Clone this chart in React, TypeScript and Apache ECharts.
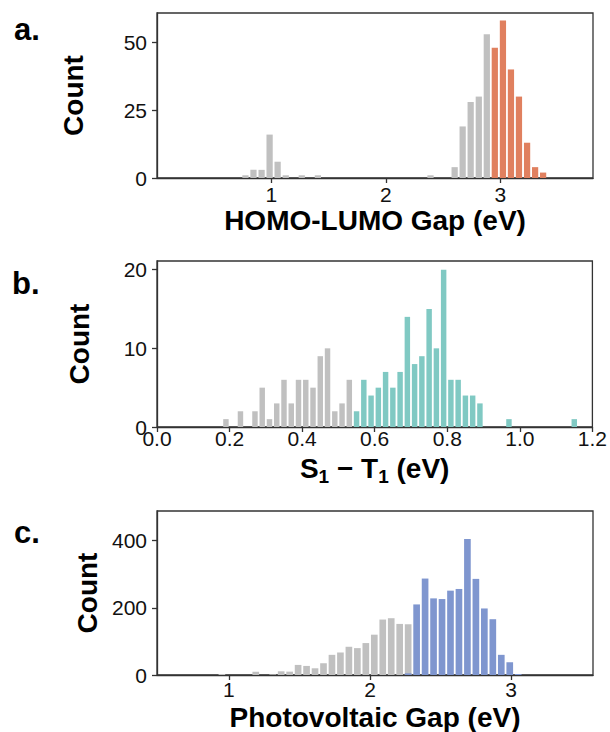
import React, { useEffect, useRef } from "react";
import * as echarts from "echarts";

const FONT = "'Liberation Sans', Arial, Helvetica, sans-serif";

// ---- Panel a: HOMO-LUMO gap ----
const aBinWidth = 0.0703;
const aGrayCenters = [0.773, 0.843, 0.914, 0.984, 1.054, 1.125, 1.265, 1.406, 2.39, 2.601, 2.671, 2.741, 2.812, 2.882];
const aGrayCounts = [1, 3, 3, 16, 6, 1, 1, 1, 1, 4, 19, 28, 30, 53];
const aTopCenters = [2.952, 3.023, 3.093, 3.163, 3.234, 3.304, 3.374];
const aTopCounts = [48, 58, 40, 30, 13, 4, 2];
const aXTicks = [1, 2, 3];
const aYTicks = [0, 25, 50];

// ---- Panel b: S1 - T1 ----
const bBinWidth = 0.02;
const bGrayCenters = [0.19, 0.23, 0.27, 0.29, 0.31, 0.33, 0.35, 0.37, 0.39, 0.41, 0.43, 0.45, 0.47, 0.49, 0.51, 0.53];
const bGrayCounts = [1, 2, 2, 5, 1, 3, 6, 3, 6, 6, 5, 9, 10, 2, 3, 6];
const bTopCenters = [0.55, 0.57, 0.59, 0.61, 0.63, 0.65, 0.67, 0.69, 0.71, 0.73, 0.75, 0.77, 0.79, 0.81, 0.83, 0.85, 0.87, 0.89, 0.97, 1.15];
const bTopCounts = [2, 6, 4, 5, 7, 5, 7, 14, 8, 9, 15, 10, 20, 6, 6, 4, 4, 3, 1, 1];
const bXTicks = [0, 0.2, 0.4, 0.6, 0.8, 1.0, 1.2];
const bYTicks = [0, 10, 20];

// ---- Panel c: Photovoltaic gap ----
const cBinWidth = 0.06;
const cGrayCenters = [0.95, 1.19, 1.31, 1.37, 1.43, 1.49, 1.55, 1.61, 1.67, 1.73, 1.79, 1.85, 1.91, 1.97, 2.03, 2.09, 2.15, 2.21, 2.27];
const cGrayCounts = [3, 10, 2, 11, 10, 30, 27, 20, 35, 60, 67, 84, 80, 95, 120, 165, 169, 152, 151];
const cTopCenters = [2.27, 2.33, 2.39, 2.45, 2.51, 2.57, 2.63, 2.69, 2.75, 2.81, 2.87, 2.93, 2.99, 3.05];
const cTopCounts = [5, 210, 287, 228, 226, 251, 256, 405, 286, 198, 166, 60, 38, 3];
const cXTicks = [1, 2, 3];
const cYTicks = [0, 200, 400];

const GRAY = "#c0c0c0";
const ORANGE = "#e0805f";
const TEAL = "#80c9c3";
const BLUE = "#7f96cf";

const pairs = (xs: number[], ys: number[]) => xs.map((x, i) => [x, ys[i]]);

function barSeries(idx: number, data: number[][], width: number, color: string) {
  return {
    type: "custom",
    xAxisIndex: idx,
    yAxisIndex: idx,
    data,
    encode: { x: 0, y: 1 },
    renderItem: (_params: any, api: any) => {
      const c = api.value(0) as number;
      const v = api.value(1) as number;
      const p0 = api.coord([c - width / 2, v]);
      const p1 = api.coord([c + width / 2, 0]);
      const gap = 0.9;
      return {
        type: "rect",
        shape: {
          x: p0[0] + gap,
          y: p0[1],
          width: Math.max(0, p1[0] - p0[0] - 2 * gap),
          height: p1[1] - p0[1],
        },
        style: { fill: color },
      };
    },
  };
}

const lineStyle = { color: "#333", width: 1.3 };

function xAxis(idx: number, min: number, max: number, ticks: number[], name: string, gap: number, margin: number, fmt?: (v: number) => string, rich?: any) {
  return {
    type: "value",
    gridIndex: idx,
    min,
    max,
    name,
    nameLocation: "middle",
    nameGap: gap,
    nameTextStyle: { fontSize: 28, fontWeight: "bold", color: "#000", fontFamily: FONT, rich },
    axisLine: { show: true, onZero: false, lineStyle },
    axisTick: { show: true, length: 5, customValues: ticks, lineStyle },
    axisLabel: { customValues: ticks, margin, fontSize: 21, color: "#111", fontFamily: FONT, formatter: fmt },
    splitLine: { show: false },
  };
}

function yAxis(idx: number, max: number, ticks: number[], gap: number) {
  return {
    type: "value",
    gridIndex: idx,
    min: 0,
    max,
    name: "Count",
    nameLocation: "middle",
    nameGap: gap,
    nameTextStyle: { fontSize: 28, fontWeight: "bold", color: "#000", fontFamily: FONT },
    axisLine: { show: true, onZero: false, lineStyle },
    axisTick: { show: true, length: 5, customValues: ticks, lineStyle },
    axisLabel: { customValues: ticks, margin: 10, fontSize: 21, color: "#111", fontFamily: FONT },
    splitLine: { show: false },
  };
}

export default function App() {
  const ref = useRef<HTMLDivElement>(null);
  useEffect(() => {
    if (!ref.current) return;
    const chart = echarts.init(ref.current, undefined, { renderer: "svg" });
    const gridBase = { show: true, borderColor: "#333", borderWidth: 1.3, left: 157, width: 436, containLabel: false };
    const subRich = {
      m: { fontSize: 28, fontWeight: "bold", color: "#000", fontFamily: FONT },
      s: { fontSize: 19, fontWeight: "bold", color: "#000", fontFamily: FONT, padding: [16, 0, 0, 0] },
    };
    chart.setOption({
      animation: false,
      grid: [
        { ...gridBase, top: 13, height: 165 },
        { ...gridBase, top: 261, height: 166 },
        { ...gridBase, top: 511, height: 166 },
      ],
      xAxis: [
        xAxis(0, 0, 3.81, aXTicks, "HOMO-LUMO Gap (eV)", 28, 6),
        xAxis(1, 0, 1.2, bXTicks, "{m|S}{s|1}{m| \u2212 T}{s|1}{m| (eV)}", 24, 1, (v: number) => v.toFixed(1), subRich),
        xAxis(2, 0.49, 3.58, cXTicks, "Photovoltaic Gap (eV)", 28, 4),
      ],
      yAxis: [yAxis(0, 60.8, aYTicks, 70), yAxis(1, 21.1, bYTicks, 64), yAxis(2, 488, cYTicks, 55)],
      series: [
        barSeries(0, pairs(aGrayCenters, aGrayCounts), aBinWidth, GRAY),
        barSeries(0, pairs(aTopCenters, aTopCounts), aBinWidth, ORANGE),
        barSeries(1, pairs(bGrayCenters, bGrayCounts), bBinWidth, GRAY),
        barSeries(1, pairs(bTopCenters, bTopCounts), bBinWidth, TEAL),
        barSeries(2, pairs(cGrayCenters, cGrayCounts), cBinWidth, GRAY),
        barSeries(2, pairs(cTopCenters, cTopCounts), cBinWidth, BLUE),
      ],
      graphic: [
        { type: "text", x: 14, y: 29.3, style: { text: "a.", fontSize: 31, fontWeight: "bold", fontFamily: FONT, fill: "#000", verticalAlign: "middle" } },
        { type: "text", x: 12, y: 283.3, style: { text: "b.", fontSize: 31, fontWeight: "bold", fontFamily: FONT, fill: "#000", verticalAlign: "middle" } },
        { type: "text", x: 14, y: 532.6, style: { text: "c.", fontSize: 31, fontWeight: "bold", fontFamily: FONT, fill: "#000", verticalAlign: "middle" } },
      ],
    });
    return () => chart.dispose();
  }, []);
  return <div ref={ref} style={{ position: "absolute", left: 0, top: 0, width: 610, height: 732 }} />;
}
